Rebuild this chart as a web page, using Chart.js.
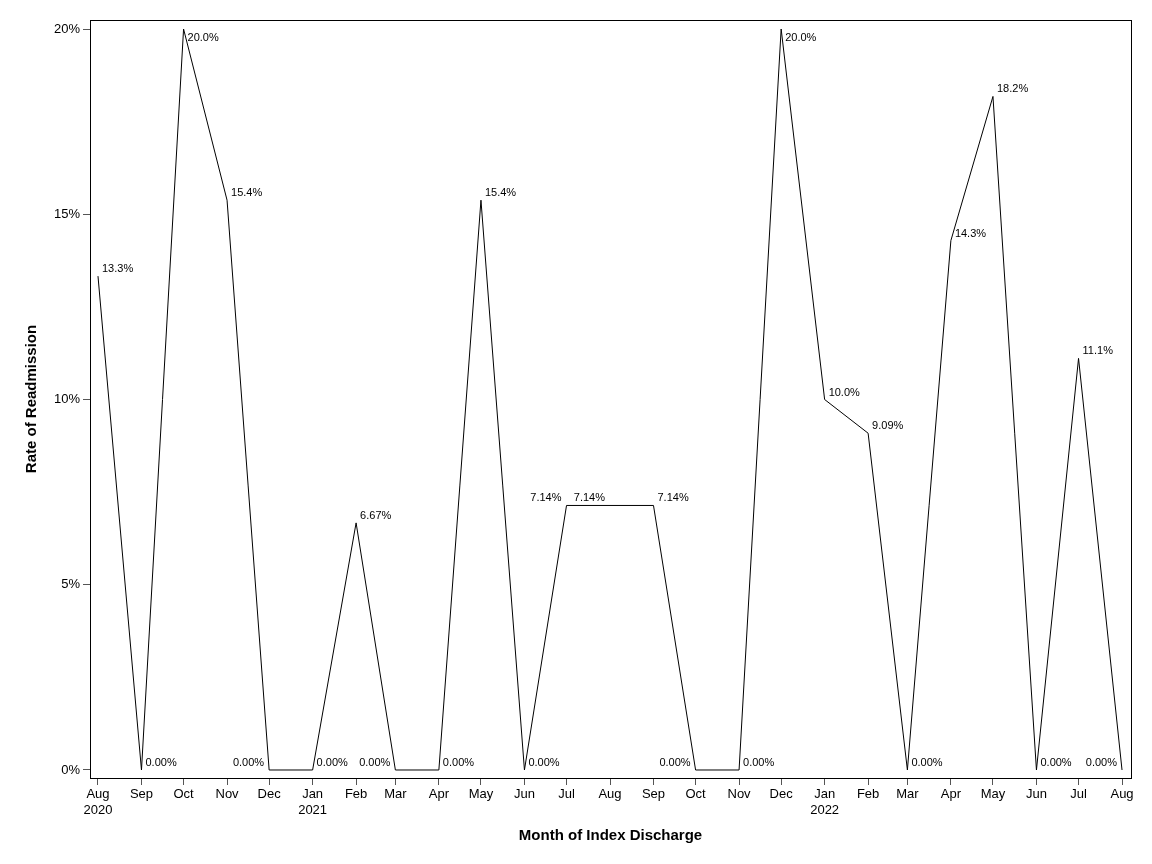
<!DOCTYPE html>
<html>
<head>
<meta charset="utf-8">
<script src="https://cdn.jsdelivr.net/npm/chart.js@4.4.1/dist/chart.umd.min.js"></script>
<style>
  html, body { margin: 0; padding: 0; background: #fff; }
  #wrap { width: 1152px; height: 864px; }
</style>
</head>
<body>
<div id="wrap"><canvas id="myChart" width="1152" height="864"></canvas></div>
<script>
// months of index discharge
var months = ['2020-08', '2020-09', '2020-10', '2020-11', '2020-12',
              '2021-01', '2021-02', '2021-03', '2021-04', '2021-05', '2021-06', '2021-07',
              '2021-08', '2021-09', '2021-10', '2021-11', '2021-12',
              '2022-01', '2022-02', '2022-03', '2022-04', '2022-05', '2022-06', '2022-07', '2022-08'];
// readmission rate, percent
var rates = [13.33, 0, 20.0, 15.38, 0,
             0, 6.67, 0, 0, 15.38, 0, 7.14,
             7.14, 7.14, 0, 0, 20.0,
             10.0, 9.09, 0, 14.29, 18.18, 0, 11.11, 0];
// which side of the point each label sits on
var labelSide = ['ne', 'ne', 'se', 'ne', 'nw',
                 'ne', 'ne', 'nw', 'ne', 'ne', 'ne', 'nw',
                 'nw', 'ne', 'nw', 'ne', 'se',
                 'ne', 'ne', 'ne', 'ne', 'ne', 'ne', 'ne', 'nw'];
var yTicks = [0, 5, 10, 15, 20];
var monthNames = ['Jan', 'Feb', 'Mar', 'Apr', 'May', 'Jun', 'Jul', 'Aug', 'Sep', 'Oct', 'Nov', 'Dec'];

var base = Date.UTC(2020, 7, 1);
var dayOf = function(m) {
    var p = m.split('-');
    return (Date.UTC(+p[0], +p[1] - 1, 1) - base) / 86400000;
};
var xVals = months.map(dayOf);
var points = xVals.map(function(x, i) { return { x: x, y: rates[i] }; });

var fmt = function(v) {
    if (v === 0) return '0.00%';
    return v.toPrecision(3) + '%';
};

var frameAndLabels = {
    id: 'frameAndLabels',
    afterDatasetsDraw: function(chart) {
        var ctx = chart.ctx, a = chart.chartArea;
        ctx.save();
        ctx.strokeStyle = '#000';
        ctx.lineWidth = 1;
        ctx.strokeRect(Math.round(a.left) + 0.5, Math.round(a.top) + 0.5,
                       Math.round(a.right - a.left), Math.round(a.bottom - a.top));
        ctx.font = '11px "Liberation Sans", Arial, sans-serif';
        ctx.fillStyle = '#000';
        ctx.textBaseline = 'middle';
        var meta = chart.getDatasetMeta(0);
        meta.data.forEach(function(pt, i) {
            var side = labelSide[i];
            var ty = side[0] === 's' ? pt.y + 9 : pt.y - 7;
            if (side[1] === 'w') {
                ctx.textAlign = 'right';
                ctx.fillText(fmt(rates[i]), pt.x - 5, ty);
            } else {
                ctx.textAlign = 'left';
                ctx.fillText(fmt(rates[i]), pt.x + 4, ty);
            }
        });
        ctx.restore();
    }
};

var config = {
    type: 'line',
    data: {
        datasets: [{
            data: points,
            borderColor: '#000000',
            borderWidth: 1,
            pointRadius: 0,
            tension: 0,
            fill: false
        }]
    },
    options: {
        responsive: false,
        animation: false,
        layout: { padding: { left: 0, top: 20, right: 21, bottom: 0 } },
        plugins: { legend: { display: false }, tooltip: { enabled: false } },
        scales: {
            x: {
                type: 'linear',
                min: -5.7,
                max: 736.4,
                afterBuildTicks: function(scale) {
                    scale.ticks = xVals.map(function(v) { return { value: v }; });
                },
                afterFit: function(scale) { scale.height = 86; },
                ticks: {
                    autoSkip: false,
                    maxRotation: 0,
                    color: '#000',
                    padding: 2,
                    font: { family: '"Liberation Sans", Arial, sans-serif', size: 13 },
                    callback: function(v) {
                        var d = new Date(base + v * 86400000);
                        var m = monthNames[d.getUTCMonth()];
                        if (v === 0 || d.getUTCMonth() === 0) return [m, String(d.getUTCFullYear())];
                        return m;
                    }
                },
                grid: { drawOnChartArea: false, drawTicks: true, tickLength: 7, tickColor: '#555', tickWidth: 1 },
                border: { display: true, color: '#000', width: 1 },
                title: {
                    display: true,
                    text: 'Month of Index Discharge',
                    color: '#000',
                    padding: { top: 12, bottom: 19 },
                    font: { family: '"Liberation Sans", Arial, sans-serif', size: 15, weight: 'bold' }
                }
            },
            y: {
                min: -0.216,
                max: 20.243,
                afterBuildTicks: function(scale) {
                    scale.ticks = yTicks.map(function(v) { return { value: v }; });
                },
                afterFit: function(scale) { scale.width = 90; },
                ticks: {
                    color: '#000',
                    padding: 3,
                    font: { family: '"Liberation Sans", Arial, sans-serif', size: 13 },
                    callback: function(v) { return v + '%'; }
                },
                grid: { drawOnChartArea: false, drawTicks: true, tickLength: 7, tickColor: '#555', tickWidth: 1 },
                border: { display: true, color: '#000', width: 1 },
                title: {
                    display: true,
                    text: 'Rate of Readmission',
                    color: '#000',
                    padding: { top: 23, bottom: 4 },
                    font: { family: '"Liberation Sans", Arial, sans-serif', size: 15, weight: 'bold' }
                }
            }
        }
    },
    plugins: [frameAndLabels]
};

window.onload = function() {
    var ctx = document.getElementById('myChart').getContext('2d');
    window.myLine = new Chart(ctx, config);
};
</script>
</body>
</html>
